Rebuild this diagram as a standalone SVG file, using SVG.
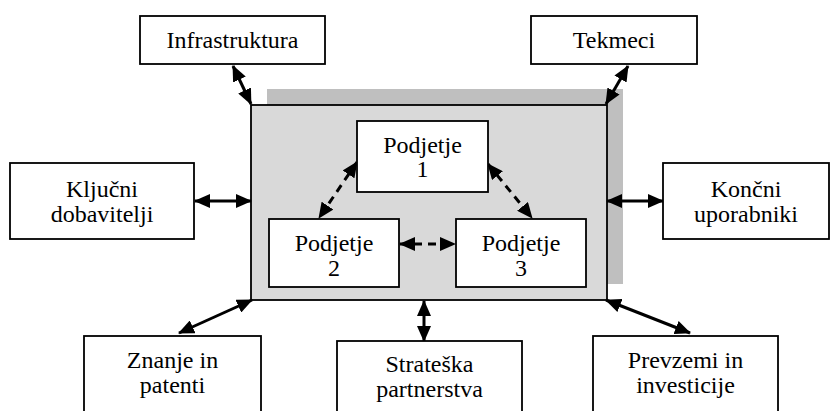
<svg xmlns="http://www.w3.org/2000/svg" width="837" height="411" viewBox="0 0 837 411">
<defs>
<marker id="ah" viewBox="0 0 16 14" refX="15" refY="7" markerWidth="16" markerHeight="14" markerUnits="userSpaceOnUse" orient="auto-start-reverse">
<path d="M0,0 L16,7 L0,14 Z" fill="#000"/>
</marker>
<style>
.box{fill:#fff;stroke:#000;stroke-width:1.8}
.t{font-family:"Liberation Serif","Times New Roman",serif;font-size:24px;fill:#000;text-anchor:middle}
.c{stroke:#000;stroke-width:3;fill:none;marker-start:url(#ah);marker-end:url(#ah)}
.d{stroke:#000;stroke-width:3;fill:none;stroke-dasharray:8 6;marker-start:url(#ah);marker-end:url(#ah)}
</style>
</defs>
<rect width="837" height="411" fill="#fff"/>
<g id="firma">
<rect x="267" y="89" width="356" height="195" fill="#bfbfbf"/>
<rect x="251" y="105" width="356" height="195" fill="#d9d9d9" stroke="#000" stroke-width="1.8"/>
</g>
<g id="connectors">
<line class="c" x1="233" y1="66" x2="251" y2="104"/>
<line class="c" x1="628" y1="66" x2="606" y2="104"/>
<line class="c" x1="195" y1="201" x2="251" y2="201"/>
<line class="c" x1="607" y1="201" x2="663" y2="201"/>
<line class="c" x1="252" y1="300" x2="179" y2="333"/>
<line class="c" x1="424" y1="301" x2="424" y2="341"/>
<line class="c" x1="606" y1="300" x2="690" y2="333"/>
<line class="d" x1="357" y1="162" x2="319" y2="218"/>
<line class="d" x1="488" y1="164" x2="532" y2="218"/>
<line class="d" x1="400" y1="244" x2="455" y2="244"/>
</g>
<g id="infrastruktura"><rect class="box" x="140" y="16" width="185" height="48"/><text class="t" x="232.5" y="48">Infrastruktura</text></g>
<g id="tekmeci"><rect class="box" x="531" y="16" width="166" height="48"/><text class="t" x="614" y="48">Tekmeci</text></g>
<g id="kljucni"><rect class="box" x="10" y="163" width="184" height="76"/><text class="t" x="102" y="197">Ključni</text><text class="t" x="102" y="222">dobavitelji</text></g>
<g id="koncni"><rect class="box" x="663" y="163" width="166" height="76"/><text class="t" x="746" y="197">Končni</text><text class="t" x="746" y="222">uporabniki</text></g>
<g id="podjetje1"><rect class="box" x="357" y="121" width="131" height="71"/><text class="t" x="422.5" y="153">Podjetje</text><text class="t" x="422.5" y="177">1</text></g>
<g id="podjetje2"><rect class="box" x="269" y="219" width="130" height="68"/><text class="t" x="334" y="251">Podjetje</text><text class="t" x="334" y="276">2</text></g>
<g id="podjetje3"><rect class="box" x="456" y="219" width="130" height="68"/><text class="t" x="521" y="251">Podjetje</text><text class="t" x="521" y="276">3</text></g>
<g id="znanje"><rect class="box" x="84" y="336" width="177" height="90"/><text class="t" x="172.5" y="368">Znanje in</text><text class="t" x="172.5" y="393">patenti</text></g>
<g id="strateska"><rect class="box" x="337" y="341" width="185" height="90"/><text class="t" x="429.5" y="372">Strateška</text><text class="t" x="429.5" y="397">partnerstva</text></g>
<g id="prevzemi"><rect class="box" x="593" y="336" width="185" height="90"/><text class="t" x="685.5" y="368">Prevzemi in</text><text class="t" x="685.5" y="393">investicije</text></g>
</svg>
